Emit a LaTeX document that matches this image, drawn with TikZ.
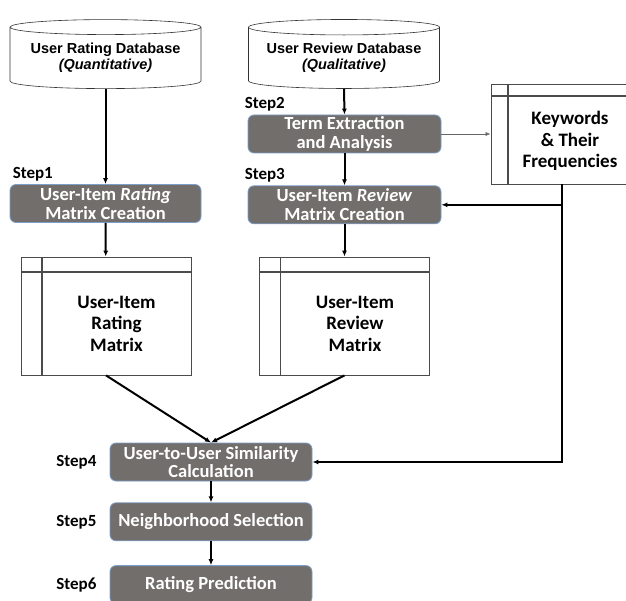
\documentclass[tikz,border=0pt]{standalone}
\usepackage{fontspec}
\setmainfont{Carlito}
\newfontfamily\arialfont{Liberation Sans}
\usetikzlibrary{shapes.geometric, positioning, arrows.meta, calc}
\definecolor{stepgray}{RGB}{114,110,108}
\definecolor{stepedge}{RGB}{125,158,200}
\definecolor{gridline}{RGB}{75,75,75}
\tikzset{
  database/.style={cylinder, shape border rotate=90, aspect=0.1, draw=black!80, line width=0.6pt, minimum width=191pt, minimum height=69pt, inner sep=0pt, align=center, font=\arialfont\bfseries\fontsize{14.5}{16}\selectfont},
  process/.style={rectangle, rounded corners=6pt, draw=stepedge, line width=0.8pt, fill=stepgray, text=white, minimum width=193pt, minimum height=38pt, inner sep=0pt, align=center, font=\bfseries\fontsize{18.5}{18.5}\selectfont},
  steplabel/.style={inner sep=0pt, font=\bfseries\fontsize{17}{18}\selectfont},
  tablebox/.style 2 args={rectangle, draw=gridline, line width=0.8pt, inner sep=0pt,
    path picture={
      \draw[gridline, line width=1.2pt] ([xshift=#1]path picture bounding box.north west) -- ([xshift=#1]path picture bounding box.south west);
      \draw[gridline, line width=1.2pt] ([yshift=-#2]path picture bounding box.north west) -- ([yshift=-#2]path picture bounding box.north east);
    }},
  tabletext/.style={inner sep=0pt, align=center, font=\bfseries\fontsize{19}{21.5}\selectfont},
  arrow/.style={line width=2pt, -{Latex[length=6pt,width=5pt]}},
  thinarrow/.style={line width=0.6pt, draw=black!60, -{Latex[length=5pt,width=4pt]}}
}
\begin{document}
\begin{tikzpicture}[x=1pt, y=-1pt]
  \useasboundingbox (0,0) rectangle (626,601);

  % Bases de datos
  \node (ratingdb) [database] at (105.5,58) {User Rating Database\\\textit{(Quantitative)}};
  \node (reviewdb) [database] at (344,58) {User Review Database\\\textit{(Qualitative)}};

  % Pasos de procesamiento
  \node (step1) [process, minimum width=191pt] at (105.5,203.5) {User-Item \textit{Rating}\\Matrix Creation};
  \node (step2) [process] at (344.5,134) {Term Extraction\\and Analysis};
  \node (step3) [process, below=32pt of step2] {User-Item \textit{Review}\\Matrix Creation};
  \node (step4) [process, minimum width=202pt] at (211,462) {User-to-User Similarity\\Calculation};
  \node (step5) [process, minimum width=202pt, below=21pt of step4] {Neighborhood Selection};
  \node (step6) [process, minimum width=202pt, below=24pt of step5] {Rating Prediction};

  % Etiquetas de pasos
  \node (s1) [steplabel, above right=3pt and 3pt of step1.north west] {Step1};
  \node (s2) [steplabel, above right=3pt and -3pt of step2.north west] {Step2};
  \node (s3) [steplabel, above right=3pt and -3pt of step3.north west] {Step3};
  \node (s4) [steplabel, left=13pt of step4] {Step4};
  \node (s5) [steplabel, left=13pt of step5] {Step5};
  \node (s6) [steplabel, left=13pt of step6] {Step6};

  % Matrices y palabras clave
  \node (ratingmat) [tablebox={21pt}{15pt}, minimum width=170pt, minimum height=118pt,
    label={[tabletext, xshift=10.5pt, yshift=-7.5pt]center:User-Item\\Rating\\Matrix}] at (106,316) {};
  \node (reviewmat) [tablebox={21pt}{15pt}, minimum width=170pt, minimum height=118pt,
    label={[tabletext, xshift=10.5pt, yshift=-7.5pt]center:User-Item\\Review\\Matrix}] at (344.5,316) {};
  \node (keywords) [tablebox={17pt}{12pt}, minimum width=141pt, minimum height=100pt,
    label={[tabletext, xshift=8.5pt, yshift=-7pt]center:Keywords\\\& Their\\Frequencies}] at (561.5,134) {};

  % Flechas de flujo principal
  \draw [arrow] (ratingdb.south) -- (step1.north);
  \draw [arrow] (reviewdb.south) -- (step2.north);
  \draw [arrow] (step2) -- (step3);
  \draw [arrow] (step1) -- (ratingmat);
  \draw [arrow] (step3) -- (reviewmat);
  \draw [arrow] (ratingmat.south) -- (step4.north);
  \draw [arrow] (reviewmat.south) -- (step4.north);
  \draw [arrow] (step4) -- (step5);
  \draw [arrow] (step5) -- (step6);

  % Palabras clave hacia los pasos 3 y 4
  \draw [thinarrow] (step2) -- (keywords);
  \draw [arrow] (keywords.south) |- (step4.east);
  \draw [arrow] (keywords.south |- step3.east) -- (step3.east);
\end{tikzpicture}
\end{document}
